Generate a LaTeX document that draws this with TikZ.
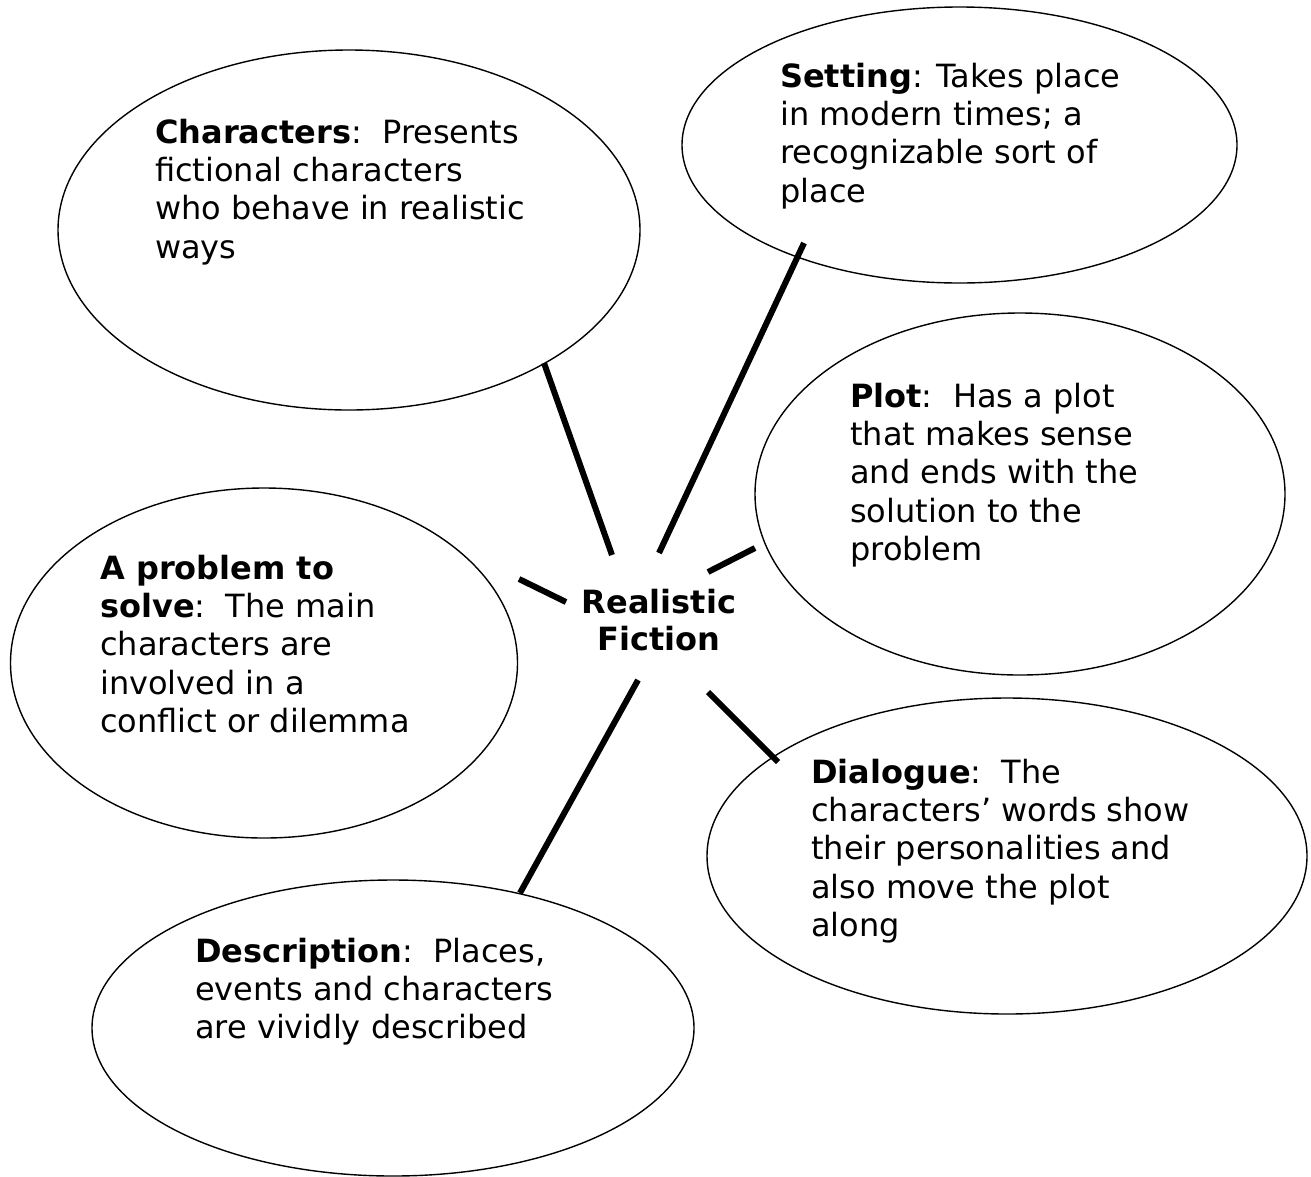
\documentclass[tikz,border=0pt]{standalone}
\usepackage{fontspec}
\setmainfont{DejaVu Sans}
\usetikzlibrary{shapes.geometric}
\begin{document}
\begin{tikzpicture}[x=1pt,y=-1pt,
  bubble/.style={draw, ellipse, line width=1.4pt, inner sep=0pt},
  txt/.style={anchor=north west, inner sep=0pt, align=left, font=\fontsize{32}{38.3}\selectfont},
  hub/.style={anchor=north, inner sep=0pt, align=center, font=\fontsize{32}{37}\selectfont\bfseries},
  spoke/.style={line width=6pt}]
\fill[white] (0,0) rectangle (1311,1176);
\useasboundingbox (0,0) rectangle (1311,1176);

% bubbles
\node[bubble, minimum width=582pt, minimum height=360pt] (charE) at (349,230) {};
\node[bubble, minimum width=555pt, minimum height=276pt] (setE) at (959.5,145) {};
\node[bubble, minimum width=530pt, minimum height=362pt] (plotE) at (1020,494) {};
\node[bubble, minimum width=507pt, minimum height=350pt] (probE) at (264,663) {};
\node[bubble, minimum width=600pt, minimum height=316pt] (dialE) at (1007,856) {};
\node[bubble, minimum width=602pt, minimum height=296pt] (descE) at (393,1028) {};

% texts
\node[txt] (charT) at (155,118.7) {\textbf{Characters}:\ \ Presents\\fictional characters\\who behave in realistic\\ways};
\node[txt] (setT) at (780,62.7) {\textbf{Setting}: Takes place\\in modern times; a\\recognizable sort of\\place};
\node[txt] (plotT) at (850,382.7) {\textbf{Plot}:\ \ Has a plot\\that makes sense\\and ends with the\\solution to the\\problem};
\node[txt] (probT) at (100,554.7) {\textbf{A problem to}\\\textbf{solve}:\ \ The main\\characters are\\involved in a\\conflict or dilemma};
\node[txt] (dialT) at (811,758.7) {\textbf{Dialogue}:\ \ The\\characters’ words show\\their personalities and\\also move the plot\\along};
\node[txt] (descT) at (195,937.7) {\textbf{Description}:\ \ Places,\\events and characters\\are vividly described};
\node[hub] (hubT) at (659,588.7) {Realistic\\Fiction};

% spoke end points
\coordinate (c1) at (544,363);  \coordinate (h1) at (612,555);
\coordinate (c2) at (804,243);  \coordinate (h2) at (659,553);
\coordinate (c3) at (519,579);  \coordinate (h3) at (566,602);
\coordinate (c4) at (755,548);  \coordinate (h4) at (708,572);
\coordinate (c5) at (520,893);  \coordinate (h5) at (638,680);
\coordinate (c6) at (778,762);  \coordinate (h6) at (708,692);

\draw[spoke] (c1) -- (h1);
\draw[spoke] (c2) -- (h2);
\draw[spoke] (c3) -- (h3);
\draw[spoke] (c4) -- (h4);
\draw[spoke] (c5) -- (h5);
\draw[spoke] (c6) -- (h6);
\end{tikzpicture}
\end{document}
